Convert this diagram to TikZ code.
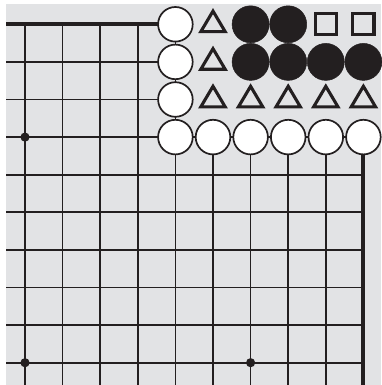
\documentclass[tikz,border=0pt]{standalone}
\definecolor{boardbg}{HTML}{E2E3E5}
\definecolor{ink}{HTML}{231F20}
\begin{document}
\begin{tikzpicture}[x=1pt,y=-1pt,
  gridline/.style={line width=1.7pt, draw=ink},
  edgeline/.style={line width=4pt, draw=ink},
  wstone/.style={circle, draw=ink, fill=white, line width=1.7pt, minimum size=34.6pt, inner sep=0pt},
  bstone/.style={circle, draw=ink, fill=ink, line width=0.5pt, minimum size=37pt, inner sep=0pt},
  hoshi/.style={circle, fill=ink, minimum size=9.2pt, inner sep=0pt},
  trimark/.style={draw=ink, line width=3.1pt, line join=miter},
  sqmark/.style={draw=ink, line width=3.1pt, line join=miter}
]
\useasboundingbox (0,0) rectangle (381,385);
\fill[boardbg] (6,4) rectangle (381,385);
\def\gx#1{25+37.6*#1}
\def\gy#1{24.3+37.6*#1}
% thin vertical lines
\foreach \i in {0,...,4} \draw[gridline] ({\gx{\i}},{\gy{0}}) -- ({\gx{\i}},385);
\foreach \i in {5,...,8} \draw[gridline] ({\gx{\i}},{\gy{3}}) -- ({\gx{\i}},385);
% thin horizontal lines
\foreach \j in {1,2} \draw[gridline] (6,{\gy{\j}}) -- ({\gx{4}},{\gy{\j}});
\foreach \j in {3,...,9} \draw[gridline] (6,{\gy{\j}}) -- ({\gx{9}},{\gy{\j}});
% edges
\draw[edgeline] (6,{\gy{0}}) -- ({\gx{4}},{\gy{0}});
\draw[edgeline] ({\gx{9}},{\gy{3}}) -- ({\gx{9}},385);
% star points
\node[hoshi] (h1) at ({\gx{0}},{\gy{3}}) {};
\node[hoshi] (h2) at ({\gx{0}},{\gy{9}}) {};
\node[hoshi] (h3) at ({\gx{6}},{\gy{9}}) {};
% white stones
\foreach \j in {0,1,2} \node[wstone] (w-4-\j) at ({\gx{4}},{\gy{\j}}) {};
\foreach \i in {4,...,9} \node[wstone] (w-\i-3) at ({\gx{\i}},{\gy{3}}) {};
% black stones
\foreach \i in {6,7} \node[bstone] (b-\i-0) at ({\gx{\i}},{\gy{0}}) {};
\foreach \i in {6,...,9} \node[bstone] (b-\i-1) at ({\gx{\i}},{\gy{1}}) {};
% triangles
\foreach \i/\j in {5/0,5/1,5/2,6/2,7/2,8/2,9/2}
  \draw[trimark] ({\gx{\i}},{\gy{\j}-13.2}) -- ({\gx{\i}+12.2},{\gy{\j}+7.4}) -- ({\gx{\i}-12.2},{\gy{\j}+7.4}) -- cycle;
% squares
\foreach \i in {8,9}
  \draw[sqmark] ({\gx{\i}-10.6},{\gy{0}-10.6}) rectangle ({\gx{\i}+10.6},{\gy{0}+10.6});
\end{tikzpicture}
\end{document}
